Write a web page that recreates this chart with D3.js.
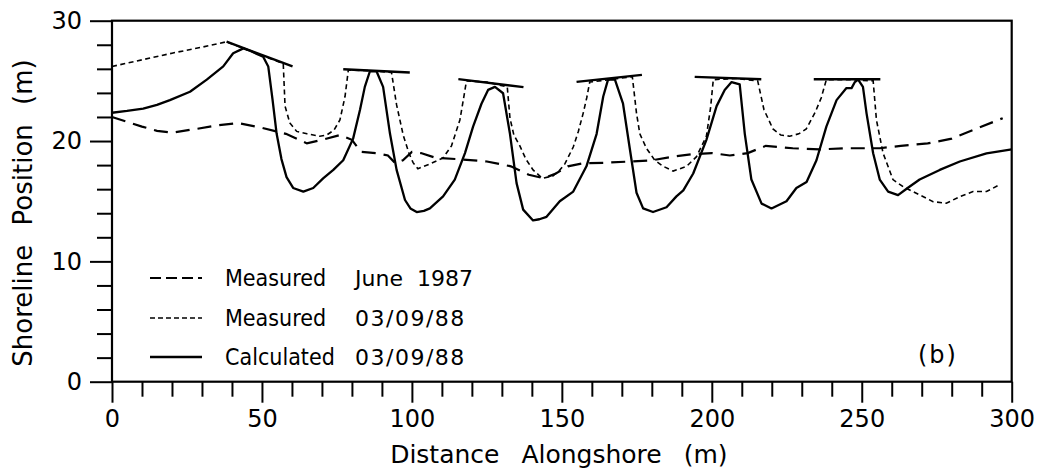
<!DOCTYPE html>
<html>
<head>
<meta charset="utf-8">
<script src="https://cdn.jsdelivr.net/npm/d3@7/dist/d3.min.js"></script>
<style>
  html, body { margin: 0; padding: 0; background: #fff; }
  svg { display: block; }
  text { fill: #000; }
</style>
</head>
<body>
<svg id="chart" width="1051" height="475"></svg>
<script>
// ---------------- DATA ----------------
const xMajorTicks = [0, 50, 100, 150, 200, 250, 300];
const yMajorTicks = [0, 10, 20, 30];

// Measured June 1987 (long dashes)
const juneX = [0, 5, 10, 15, 20, 28, 35, 42, 50, 58, 65, 70, 76, 80, 83, 88, 92, 94.5, 97, 100, 103, 108, 115, 125, 133, 139, 144, 148, 152, 157, 165, 173, 180, 187, 193, 200, 206, 212, 218, 227, 236, 244, 256, 263, 272, 280, 288, 297];
const juneY = [22.0, 21.6, 21.2, 20.85, 20.7, 21.0, 21.3, 21.5, 21.1, 20.6, 19.8, 20.1, 20.5, 20.1, 19.1, 19.0, 18.8, 18.15, 18.4, 19.1, 19.0, 18.6, 18.5, 18.3, 17.9, 17.2, 16.9, 17.3, 17.9, 18.15, 18.2, 18.3, 18.4, 18.7, 18.9, 19.0, 18.8, 19.0, 19.6, 19.4, 19.3, 19.4, 19.4, 19.6, 19.8, 20.2, 21.0, 21.9];

// Measured 03/09/88 (short dashes)
const marX = [0, 10, 20, 30, 38.2, 48, 57.1, 57.7, 59.3, 61.6, 65, 69.3, 71.6, 74, 76, 77.7, 78.8, 86, 93.2, 94.9, 97.1, 99, 100.4, 102, 106, 110.4, 113.2, 116, 117.2, 118.2, 125, 131.8, 132.7, 134, 136, 138, 140.4, 143.5, 147, 149, 151, 153.8, 155.5, 157.1, 158.3, 159.3, 166, 173.5, 174.9, 176, 178.2, 181, 183.8, 187.1, 191.6, 194.9, 198.2, 199.6, 200.5, 208, 215.3, 217.4, 220.4, 223, 226, 229, 231.5, 234.5, 236.5, 238.2, 246, 253.8, 254.9, 257.1, 260.4, 263.8, 268.2, 273.8, 278.2, 282.7, 287.1, 291.6, 295.4];
const marY = [26.2, 26.75, 27.3, 27.8, 28.25, 27.3, 26.45, 22.9, 21.5, 20.8, 20.6, 20.4, 20.5, 20.9, 21.75, 23.7, 25.9, 25.85, 25.7, 23.0, 20.5, 19.0, 18.2, 17.7, 18.1, 18.6, 19.6, 21.75, 23.5, 25.0, 24.9, 24.5, 21.9, 20.5, 19.6, 18.5, 17.6, 16.9, 17.1, 17.5, 18.1, 19.5, 20.8, 22.3, 23.6, 24.9, 25.1, 25.35, 22.3, 20.6, 19.4, 18.4, 17.9, 17.5, 17.9, 18.7, 20.4, 22.8, 25.1, 25.2, 25.0, 22.6, 21.0, 20.5, 20.4, 20.6, 21.0, 22.4, 23.6, 25.1, 25.1, 25.0, 21.75, 19.0, 16.8, 16.2, 15.66, 14.96, 14.83, 15.38, 15.8, 15.8, 16.3];

// Calculated 03/09/88 (solid)
const calX = [0, 5, 10.4, 15, 19.3, 26, 31.6, 37.1, 40.4, 43.8, 46, 50.4, 52.1, 53.5, 54.9, 56.5, 58.2, 60.4, 63.8, 67.1, 70.4, 73.8, 77.1, 80.4, 82.7, 84.3, 86, 88.2, 90.4, 92.7, 94.9, 97.7, 99.5, 101.6, 104, 106, 110.4, 114.3, 117.7, 120.4, 123.2, 125.4, 127.7, 130.4, 132.7, 134.9, 137.1, 140.4, 142.5, 144.9, 149.3, 153.8, 158.2, 161.6, 163.8, 165.4, 167.7, 170.4, 172.7, 174.9, 177.1, 180.4, 184.9, 188.2, 190.5, 193.8, 198.2, 201.6, 204.3, 206.6, 209.3, 211, 213.2, 216.6, 219.9, 224.9, 228.2, 231.6, 234.9, 238.2, 241.6, 244.9, 246.6, 247.7, 248.8, 250.4, 251.6, 253.8, 256, 258.8, 262.1, 265.3, 269.3, 276, 282.7, 291.6, 300];
const calY = [22.35, 22.5, 22.7, 23.0, 23.4, 24.1, 25.1, 26.2, 27.3, 27.7, 27.5, 27.0, 26.2, 23.5, 20.6, 18.5, 17.0, 16.1, 15.8, 16.1, 16.9, 17.6, 18.4, 20.2, 22.6, 24.5, 25.8, 25.8, 24.5, 20.6, 17.6, 15.1, 14.4, 14.1, 14.2, 14.4, 15.4, 16.8, 19.0, 21.2, 23.1, 24.25, 24.5, 23.97, 20.6, 16.5, 14.3, 13.4, 13.5, 13.7, 15.0, 15.8, 17.9, 20.6, 23.7, 25.1, 25.1, 23.1, 19.3, 15.7, 14.4, 14.1, 14.5, 15.4, 15.9, 17.3, 20.1, 22.9, 24.25, 24.9, 24.7, 20.6, 16.8, 14.8, 14.4, 15.0, 16.1, 16.6, 18.4, 21.2, 23.4, 24.4, 24.4, 24.9, 25.1, 24.5, 22.3, 18.98, 16.8, 15.8, 15.5, 16.1, 16.8, 17.6, 18.3, 18.98, 19.3];

// Groin (structure) lines: start x, start y, end x, end y
const groinX1 = [38.2, 77.1, 115.5, 154.9, 194.3, 234.0];
const groinY1 = [28.26, 25.97, 25.14, 24.92, 25.33, 25.14];
const groinX2 = [60.2, 99.3, 137.2, 176.7, 216.5, 256.2];
const groinY2 = [26.2, 25.7, 24.48, 25.5, 25.14, 25.14];

const legendNames = ["Measured", "Measured", "Calculated"];
const legendDates = ["June  1987", "03/09/88", "03/09/88"];

// ---------------- DRAW ----------------
const svg = d3.select("#chart");
const L = 112, R = 1011.7, T = 20.7, B = 381.7;
const x = d3.scaleLinear().domain([0, 300]).range([L, R]);
const y = d3.scaleLinear().domain([0, 30]).range([B, T]);

const FONT = "'DejaVu Sans', sans-serif";

// minor ticks
const xMinor = d3.range(0, 301, 10).filter(v => v % 50 !== 0);
const yMinor = d3.range(0, 31, 2).filter(v => v % 10 !== 0);

function styleAxis(g) {
  g.select(".domain").remove();
  g.selectAll(".tick line").attr("stroke", "#000").attr("stroke-width", 2);
  g.selectAll(".tick text").attr("font-family", FONT).attr("font-size", 24).attr("fill", "#000");
}

svg.append("g").attr("transform", `translate(0,${B})`)
  .call(d3.axisBottom(x).tickValues(xMinor).tickSize(15).tickFormat(""))
  .call(styleAxis);
svg.append("g").attr("transform", `translate(0,${B})`)
  .call(d3.axisBottom(x).tickValues(xMajorTicks).tickSize(21).tickPadding(7).tickFormat(d3.format("d")))
  .call(styleAxis);
svg.append("g").attr("transform", `translate(${L},0)`)
  .call(d3.axisLeft(y).tickValues(yMinor).tickSize(15).tickFormat(""))
  .call(styleAxis);
svg.append("g").attr("transform", `translate(${L},0)`)
  .call(d3.axisLeft(y).tickValues(yMajorTicks).tickSize(22).tickPadding(8).tickFormat(d3.format("d")))
  .call(styleAxis);

// frame
svg.append("rect").attr("x", L).attr("y", T).attr("width", R - L).attr("height", B - T)
  .attr("fill", "none").attr("stroke", "#000").attr("stroke-width", 2.2);

// axis titles
svg.append("text").attr("x", (L + R) / 2 - 3).attr("y", 463).attr("text-anchor", "middle")
  .attr("font-family", FONT).attr("font-size", 25).style("word-spacing", "14px")
  .text("Distance Alongshore (m)");
svg.append("text").attr("transform", "translate(32,213) rotate(-90)").attr("text-anchor", "middle")
  .attr("font-family", FONT).attr("font-size", 26).style("word-spacing", "11px")
  .text("Shoreline Position (m)");

// lines
const line = d3.line().x(d => x(d[0])).y(d => y(d[1]));
const june = juneX.map((v, i) => [v, juneY[i]]);
const mar = marX.map((v, i) => [v, marY[i]]);
const cal = calX.map((v, i) => [v, calY[i]]);

const plot = svg.append("g");
plot.append("path").datum(june).attr("d", line).attr("fill", "none").attr("stroke", "#000")
  .attr("stroke-width", 2.2).attr("stroke-dasharray", "14,8");
plot.append("path").datum(mar).attr("d", line).attr("fill", "none").attr("stroke", "#000")
  .attr("stroke-width", 1.6).attr("stroke-dasharray", "5,3.5");
plot.append("path").datum(cal).attr("d", line).attr("fill", "none").attr("stroke", "#000")
  .attr("stroke-width", 2.3).attr("stroke-linejoin", "round");

plot.selectAll("line.groin").data(groinX1).join("line").attr("class", "groin")
  .attr("x1", (d, i) => x(groinX1[i])).attr("y1", (d, i) => y(groinY1[i]))
  .attr("x2", (d, i) => x(groinX2[i])).attr("y2", (d, i) => y(groinY2[i]))
  .attr("stroke", "#000").attr("stroke-width", 2.4);

// legend
const legRows = [278, 318, 357];
const legDash = ["11,5", "5,3", null];
const legW = [2.2, 1.6, 2.4];
legRows.forEach((ly, i) => {
  const ln = svg.append("line").attr("x1", 150).attr("x2", 202).attr("y1", ly).attr("y2", ly)
    .attr("stroke", "#000").attr("stroke-width", legW[i]);
  if (legDash[i]) ln.attr("stroke-dasharray", legDash[i]);
  svg.append("text").attr("x", 225).attr("y", ly + 8)
    .attr("font-family", "'DejaVu Sans Condensed', 'DejaVu Sans', sans-serif").attr("font-size", 23)
    .text(legendNames[i]);
  svg.append("text").attr("x", 355).attr("y", ly + 8)
    .attr("font-family", FONT).attr("font-size", 22).style("letter-spacing", i === 0 ? "0px" : "1.5px")
    .style("white-space", "pre")
    .text(legendDates[i]);
});

// panel label
svg.append("text").attr("x", 918).attr("y", 363)
  .attr("font-family", FONT).attr("font-size", 24).style("letter-spacing", "2px")
  .text("(b)");
</script>
</body>
</html>
